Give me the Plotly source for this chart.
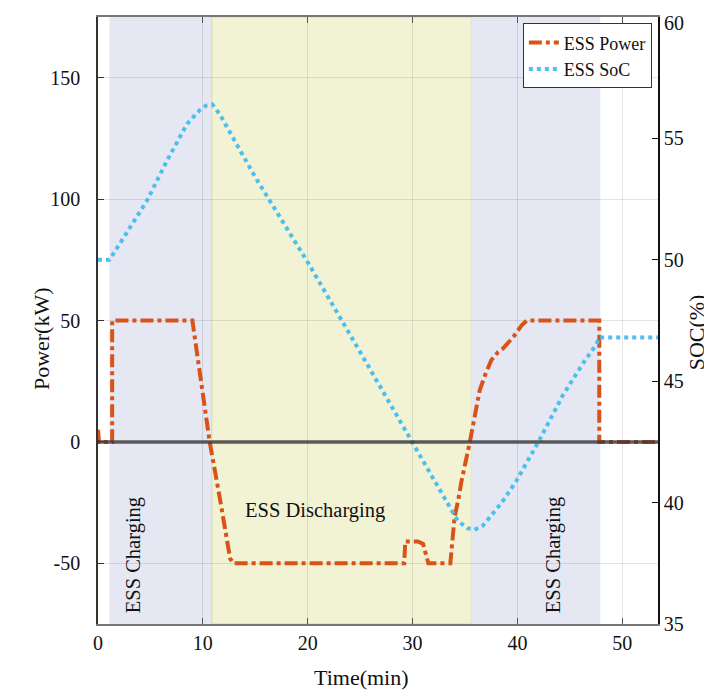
import plotly.graph_objects as go

# ---- data ----
time_power = [0, 0.1, 1.35, 1.35, 9.0, 9.75, 10.65, 11.65, 12.6, 12.9, 29.2, 29.3, 30.5, 31.0, 31.5,
              33.6, 34.0, 34.35, 34.67, 35.46, 35.93, 36.4, 36.9, 37.5, 38.15, 38.6, 39.6, 40.4, 40.9,
              47.8, 47.8, 53.4]
ess_power = [5, 0, 0, 50, 50, 26, 0, -24, -48, -50, -50, -41, -41, -42, -50,
             -50, -31, -24, -16, 0, 11.7, 21.3, 27.4, 33.6, 37, 38.4, 43.2, 48, 50,
             50, 0, 0]

time_soc = [0, 1.1, 2.4, 4.7, 6.6, 8.5, 9.7, 10.3, 10.9, 11.6, 15, 20, 25, 29.8, 32, 33.5,
            34.3, 35.2, 35.9, 36.7, 37.4, 38.5, 39.9, 42, 44.3, 46.2, 47.5, 47.8, 53.4]
ess_soc = [50.0, 50.0, 50.88, 52.46, 54.1, 55.6, 56.16, 56.35, 56.4, 56.0, 53.4, 49.9, 46.2, 42.6, 41.0, 39.9,
           39.25, 38.95, 38.88, 39.05, 39.4, 40.0, 40.9, 42.5, 44.4, 45.7, 46.5, 46.8, 46.8]

charge1 = (1.1, 10.85)
discharge = (10.85, 35.6)
charge2 = (35.6, 47.9)

x_ticks = [0, 10, 20, 30, 40, 50]
x_ticktext = ["0", "10", "20", "30", "40", "50"]
y_ticks = [-50, 0, 50, 100, 150]
y_ticktext = ["-50", "0", "50", "100", "150"]
y2_ticks = [35, 40, 45, 50, 55, 60]
y2_ticktext = ["35", "40", "45", "50", "55", ""]   # top label "60" drawn separately below
y2_top_label = "60"

FONT = "Liberation Serif, Times New Roman, serif"

fig = go.Figure()

# shaded regions
fig.add_vrect(x0=charge1[0], x1=charge1[1], fillcolor="#E5E8F3", line_width=0, layer="below")
fig.add_vrect(x0=discharge[0], x1=discharge[1], fillcolor="#F2F3D4",
              line=dict(color="#D9D9A6", width=1), layer="below")
fig.add_vrect(x0=charge2[0], x1=charge2[1], fillcolor="#E5E8F3", line_width=0, layer="below")

fig.add_trace(go.Scatter(
    x=time_power, y=ess_power, mode="lines", name="ESS Power",
    line=dict(color="#D95319", width=4, dash="13px,4px,4px,4px"),
))
fig.add_trace(go.Scatter(
    x=time_soc, y=ess_soc, mode="lines", name="ESS SoC", yaxis="y2",
    line=dict(color="#4DBEEE", width=4, dash="dot"),
))

# zero reference line
fig.add_hline(y=0, line=dict(color="rgba(55,55,55,0.8)", width=3.5), layer="above")

# region labels
lab_font = dict(family=FONT, size=20.5, color="#111")
fig.add_annotation(x=3.36, y=-46.6, text="ESS Charging", textangle=-90, showarrow=False, font=lab_font)
fig.add_annotation(x=43.4, y=-46.6, text="ESS Charging", textangle=-90, showarrow=False, font=lab_font)
fig.add_annotation(x=20.7, y=-28.1, text="ESS Discharging", showarrow=False, font=lab_font)

# top right tick label kept inside the page
fig.add_annotation(xref="paper", yref="paper", x=1, y=1, xanchor="left", yanchor="top",
                   xshift=4, yshift=7, text=y2_top_label, showarrow=False,
                   font=dict(family=FONT, size=20, color="#111"))

# axis titles
title_font = dict(family=FONT, size=22, color="#111")
fig.add_annotation(xref="paper", yref="paper", x=-0.127, y=0.47, text="Power(kW)", textangle=-90,
                   showarrow=False, font=title_font)
fig.add_annotation(xref="paper", yref="paper", x=1.095, y=0.48, text="SOC(%)", textangle=-90,
                   showarrow=False, font=title_font)
fig.add_annotation(xref="paper", yref="paper", x=0.47, y=-0.0884, yanchor="middle",
                   text="Time(min)", showarrow=False, font=title_font)

fig.update_layout(
    width=712, height=690,
    margin=dict(l=90, r=62, t=9, b=74, autoexpand=False),
    plot_bgcolor="white", paper_bgcolor="white",
    font=dict(family=FONT, size=20, color="#111"),
    showlegend=True,
    legend=dict(x=0.989, y=0.9896, xanchor="right", yanchor="top",
                bgcolor="white", bordercolor="#333", borderwidth=1,
                font=dict(family=FONT, size=18, color="#111")),
    xaxis=dict(range=[0, 53.4], tickvals=x_ticks, ticktext=x_ticktext, ticks="inside", ticklen=6,
               tickcolor="#555", automargin=False,
               showgrid=True, gridcolor="rgba(0,0,0,0.1)", gridwidth=1,
               showline=True, linecolor="#777", linewidth=1.5, mirror="ticks",
               zeroline=False),
    yaxis=dict(range=[-75, 175], tickvals=y_ticks, ticktext=y_ticktext, ticks="inside", ticklen=6,
               tickcolor="#333", automargin=False,
               showgrid=True, gridcolor="rgba(0,0,0,0.1)", gridwidth=1,
               showline=True, linecolor="#333", linewidth=1.5, zeroline=False,
               ticklabelstandoff=12),
    yaxis2=dict(range=[35, 60], tickvals=y2_ticks, ticktext=y2_ticktext, overlaying="y", side="right",
                ticks="inside", ticklen=6, tickcolor="#111", showgrid=False, automargin=False,
                showline=True, linecolor="#111", linewidth=1.5, zeroline=False),
)

fig.write_html("out.html")
